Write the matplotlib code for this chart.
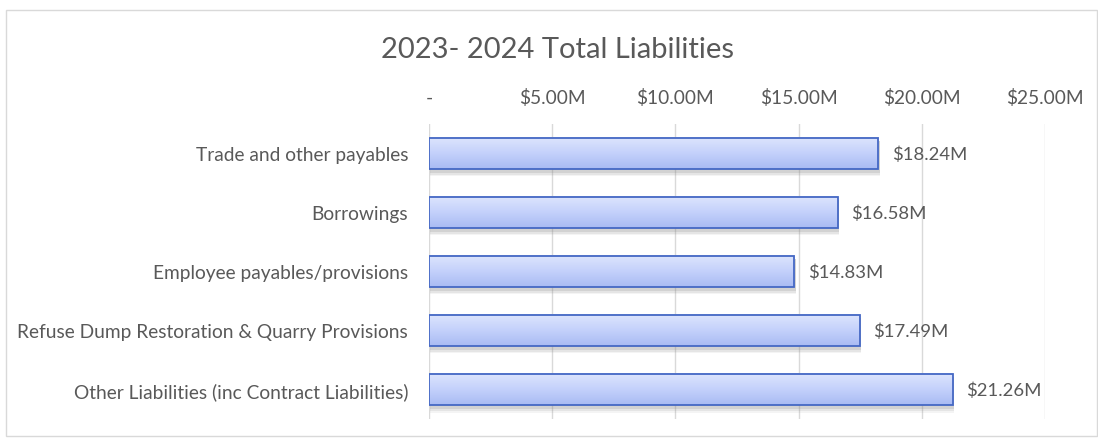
import numpy as np
import matplotlib.pyplot as plt
from matplotlib.patches import Rectangle
from matplotlib.colors import LinearSegmentedColormap

plt.rcParams['font.family'] = ['Lato', 'DejaVu Sans']

# Liabilities in $ millions
categories = [
    'Trade and other payables',
    'Borrowings',
    'Employee payables/provisions',
    'Refuse Dump Restoration & Quarry Provisions',
    'Other Liabilities (inc Contract Liabilities)',
]
values = [18.24, 16.58, 14.83, 17.49, 21.26]
ticks = [0, 5, 10, 15, 20, 25]
tick_labels = ['-', '$5.00M', '$10.00M', '$15.00M', '$20.00M', '$25.00M']

text_col = '#595959'
grid_col = '#d9d9d9'
edge_col = '#4568c4'
bar_h = 0.54

fig = plt.figure(figsize=(10.98, 4.39), dpi=100)
ax = fig.add_axes([0.3907, 0.0433, 0.561, 0.672])

# chart border
fig.patches.append(Rectangle((6 / 1098, 2 / 439), 1091 / 1098, 426 / 439,
                             transform=fig.transFigure, fill=False,
                             edgecolor='#d9d9d9', lw=1))

grad = LinearSegmentedColormap.from_list(
    'barfill', ['#dde5fd', '#c4d1fb', '#a9bbf3'])
g = np.linspace(0, 1, 64).reshape(-1, 1)

for i, v in enumerate(values):
    # soft shadow under each bar
    for k, a in zip([0.09, 0.06, 0.03], [0.08, 0.12, 0.18]):
        ax.add_patch(Rectangle((0.05, i - bar_h / 2 + 0.05), v, bar_h + k - 0.02,
                               facecolor='#7f7f7f', alpha=a, lw=0, zorder=2))
    ax.imshow(g, cmap=grad, aspect='auto', origin='upper',
              extent=(0, v, i + bar_h / 2, i - bar_h / 2), zorder=3)
    ax.add_patch(Rectangle((0, i - bar_h / 2), v, bar_h, fill=False,
                           edgecolor=edge_col, lw=1.3, zorder=4))
    ax.text(v + 0.55, i, f'${v:.2f}M', va='center', ha='left',
            fontsize=13.3, color=text_col)

ax.set_xlim(0, 25)
ax.set_ylim(4.5, -0.5)
ax.set_yticks(range(len(categories)))
ax.set_yticklabels(categories, fontsize=13.8, color=text_col)
ax.set_xticks(ticks)
ax.set_xticklabels(tick_labels, fontsize=13.8, color=text_col)
ax.xaxis.tick_top()
ax.tick_params(axis='x', length=0, pad=13)
ax.tick_params(axis='y', length=0, pad=15)
ax.grid(axis='x', color=grid_col, lw=1)
ax.set_axisbelow(True)
for s in ax.spines.values():
    s.set_visible(False)

fig.text(0.508, 0.886, '2023- 2024 Total Liabilities', ha='center', va='center',
         fontsize=21, color=text_col)

fig.savefig('out.png', dpi=100, facecolor='white')
